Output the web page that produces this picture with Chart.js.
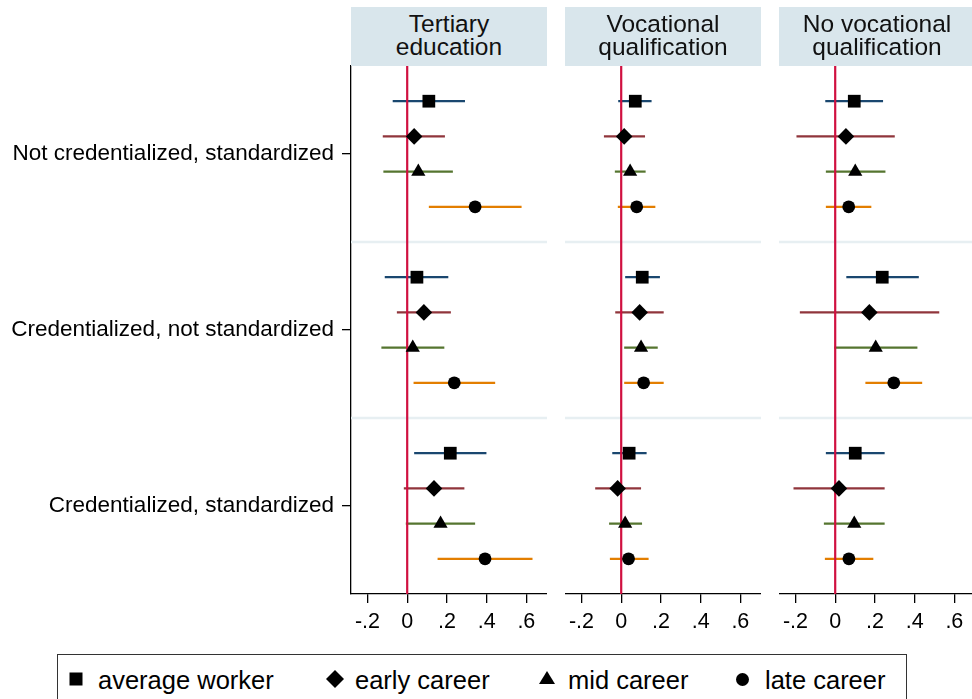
<!DOCTYPE html>
<html><head><meta charset="utf-8">
<script src="https://cdn.jsdelivr.net/npm/chart.js@4.4.1/dist/chart.umd.min.js"></script>
<style>
html,body{margin:0;padding:0;background:#fff;overflow:hidden;width:972px;height:699px;}
body{position:relative;font-family:"Liberation Sans",Arial,sans-serif;color:#000;}
canvas{position:absolute;top:0;}
.hdr{position:absolute;top:7px;height:59px;width:196px;background:#d9e6ec;color:#111;font-size:24.5px;line-height:23px;text-align:center;box-sizing:border-box;padding-top:5px;white-space:nowrap;}
.legend{position:absolute;left:57px;top:654px;width:850px;height:70px;border:1.3px solid #333;box-sizing:border-box;}
.li{position:absolute;top:0;height:50px;line-height:50px;font-size:25.5px;color:#000;white-space:nowrap;}
.li svg{position:absolute;top:17px;}
</style>
</head><body>
<canvas id="p1" width="547" height="640" style="left:0px"></canvas>
<canvas id="p2" width="196" height="640" style="left:565px"></canvas>
<canvas id="p3" width="196" height="640" style="left:779px"></canvas>
<div id="headers"></div>
<div class="legend" id="legend"></div>
<script>
// ---- data ----
const panelTitles = [['Tertiary','education'],['Vocational','qualification'],['No vocational','qualification']];
const categories = ['Not credentialized, standardized','Credentialized, not standardized','Credentialized, standardized'];
const seriesNames = ['average worker','early career','mid career','late career'];
const xTickValues = [-0.2, 0, 0.2, 0.4, 0.6];
const zeroLine = 0;

// order: group 1 (avg, early, mid, late), group 2, group 3
const tertiaryEst = [0.109, 0.035, 0.056, 0.342,  0.049, 0.084, 0.028, 0.237,  0.217, 0.135, 0.168, 0.392];
const tertiaryLo  = [-0.073,-0.123,-0.120, 0.109, -0.113,-0.052,-0.130, 0.032,  0.035,-0.017,-0.007, 0.153];
const tertiaryHi  = [0.291, 0.190, 0.230, 0.576,  0.207, 0.220, 0.187, 0.443,  0.399, 0.288, 0.342, 0.631];

const vocationalEst = [0.071, 0.015, 0.045, 0.078,  0.106, 0.093, 0.100, 0.113,  0.040,-0.018, 0.020, 0.037];
const vocationalLo  = [-0.015,-0.087,-0.032,-0.017, 0.020,-0.030, 0.015, 0.015, -0.045,-0.131,-0.061,-0.057];
const vocationalHi  = [0.153, 0.120, 0.123, 0.172,  0.195, 0.214, 0.184, 0.214,  0.128, 0.100, 0.105, 0.138];

const noVocEst = [0.096, 0.054, 0.101, 0.068,  0.237, 0.172, 0.204, 0.295,  0.101, 0.019, 0.096, 0.069];
const noVocLo  = [-0.050,-0.195,-0.047,-0.047, 0.056,-0.178,-0.005, 0.152, -0.047,-0.210,-0.057,-0.052];
const noVocHi  = [0.241, 0.300, 0.253, 0.182,  0.421, 0.524, 0.414, 0.438,  0.249, 0.249, 0.249, 0.192];

// ---- styles ----
const ciColors = ['#1a476f','#90353b','#55752f','#e37e00'];
const markerStyles = ['rect','rectRot','triangle','circle'];
const markerRadius = [9, 8.3, 8.2, 6.4];
const FONT = '"Liberation Sans", Arial, sans-serif';

const rowsPerGroup = seriesNames.length;
const groupSpan = rowsPerGroup + 1;
const rowPos = i => Math.floor(i / rowsPerGroup) * groupSpan + (i % rowsPerGroup) + 1;
const yMax = categories.length * groupSpan;

function fmt(v){
  if (Math.abs(v) < 1e-9) return '0';
  const s = Math.abs(v).toFixed(1).replace(/^0/, '');
  return (v < 0 ? '-' : '') + s;
}

const sepPlugin = {
  id: 'sep',
  beforeDatasetsDraw(chart){
    const {ctx, chartArea: a} = chart; const y = chart.scales.y;
    ctx.save(); ctx.strokeStyle = '#e7eff2'; ctx.lineWidth = 2.5;
    for (let g = 1; g < categories.length; g++){
      const py = y.getPixelForValue(g * groupSpan);
      ctx.beginPath(); ctx.moveTo(a.left, py); ctx.lineTo(a.right, py); ctx.stroke();
    }
    ctx.restore();
  }
};

function makePanel(id, est, lo, hi, showY){
  const datasets = [];
  est.forEach((e, i) => {
    const s = i % rowsPerGroup;
    datasets.push({
      data: [{x: lo[i], y: rowPos(i)}, {x: hi[i], y: rowPos(i)}],
      showLine: true, borderColor: ciColors[s], borderWidth: 2.2,
      pointRadius: 0, order: 3
    });
  });
  datasets.push({
    data: [{x: zeroLine, y: 0}, {x: zeroLine, y: yMax}],
    showLine: true, borderColor: '#d01040', borderWidth: 2.2, pointRadius: 0, order: 2
  });
  seriesNames.forEach((name, s) => {
    const pts = [];
    est.forEach((e, i) => { if (i % rowsPerGroup === s) pts.push({x: e, y: rowPos(i)}); });
    datasets.push({
      label: name, data: pts, showLine: false,
      pointStyle: markerStyles[s], pointRadius: markerRadius[s],
      pointBackgroundColor: '#000', pointBorderColor: '#000', pointBorderWidth: 0,
      order: 1
    });
  });
  return new Chart(document.getElementById(id), {
    type: 'scatter',
    data: { datasets },
    plugins: [sepPlugin],
    options: {
      responsive: false, animation: false, devicePixelRatio: 1,
      layout: { autoPadding: false, padding: { top: 66, left: 0, right: 0, bottom: 0 } },
      plugins: { legend: { display: false }, tooltip: { enabled: false }, title: { display: false } },
      events: [],
      scales: {
        x: {
          type: 'linear', min: -0.283, max: 0.704,
          afterBuildTicks: sc => { sc.ticks = xTickValues.map(v => ({value: v})); },
          afterFit: sc => { sc.height = 46; sc.paddingLeft = 0; sc.paddingRight = 0; },
          ticks: { callback: v => fmt(v), font: { family: FONT, size: 21.5 }, color: '#000', padding: 6, maxRotation: 0, autoSkip: false },
          grid: { drawOnChartArea: false, drawTicks: true, tickLength: 9, color: '#000', lineWidth: 1.3 },
          border: { display: true, color: '#000', width: 1.3 }
        },
        y: {
          type: 'linear', min: 0, max: yMax, reverse: true, display: showY,
          afterBuildTicks: sc => { sc.ticks = categories.map((c, g) => ({value: g * groupSpan + groupSpan / 2})); },
          afterFit: sc => { if (showY) sc.width = 351; sc.paddingTop = 0; sc.paddingBottom = 0; },
          ticks: { callback: v => categories[Math.round((v - groupSpan / 2) / groupSpan)], font: { family: FONT, size: 22.5 }, color: '#000', padding: 8, autoSkip: false },
          grid: { drawOnChartArea: false, drawTicks: true, tickLength: 9, color: '#000', lineWidth: 1.3 },
          border: { display: true, color: '#000', width: 1.3 }
        }
      }
    }
  });
}

makePanel('p1', tertiaryEst, tertiaryLo, tertiaryHi, true);
makePanel('p2', vocationalEst, vocationalLo, vocationalHi, false);
makePanel('p3', noVocEst, noVocLo, noVocHi, false);

// headers
const hdrLefts = [351, 565, 779];
const hdrBox = document.getElementById('headers');
panelTitles.forEach((t, k) => {
  const d = document.createElement('div');
  d.className = 'hdr'; d.style.left = hdrLefts[k] + 'px';
  d.innerHTML = t.join('<br>');
  hdrBox.appendChild(d);
});

// legend
const legendMarkers = [
  '<svg width="14" height="14"><rect x="0.5" y="0.5" width="13" height="13" fill="#000"/></svg>',
  '<svg width="18" height="18" style="top:15px"><polygon points="9,0 18,9 9,18 0,9" fill="#000"/></svg>',
  '<svg width="16" height="14" style="top:16px"><polygon points="8,0 16,13 0,13" fill="#000"/></svg>',
  '<svg width="13" height="13" style="top:18px"><circle cx="6.5" cy="6.5" r="6.5" fill="#000"/></svg>'
];
const legendLefts = [11, 268, 481, 678];
const lg = document.getElementById('legend');
seriesNames.forEach((n, s) => {
  const d = document.createElement('div');
  d.className = 'li'; d.style.left = legendLefts[s] + 'px';
  d.innerHTML = legendMarkers[s] + '<span style="margin-left:29px">' + n + '</span>';
  lg.appendChild(d);
});
</script>
</body></html>
